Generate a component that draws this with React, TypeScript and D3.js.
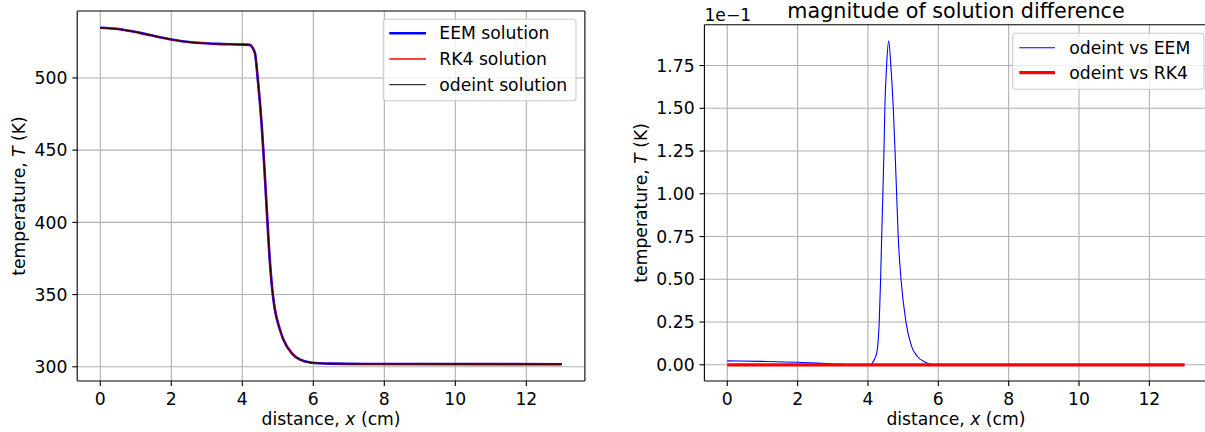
import React from "react";
import * as d3 from "d3";

// ---------- data ----------
const xTicks = [0, 2, 4, 6, 8, 10, 12];
const tempTicks = [300, 350, 400, 450, 500];
const diffTicks = [0, 0.025, 0.05, 0.075, 0.1, 0.125, 0.15, 0.175]; // K (shown ×1e-1)

const solutionX = [0, 0.55, 1.12, 1.68, 2.0, 2.62, 3.28, 4.0, 4.21, 4.28, 4.36, 4.43, 4.5, 4.55, 4.6, 4.65, 4.7, 4.78, 4.86, 4.92, 5.05, 5.16, 5.39, 5.63, 5.91, 6.47, 7.5, 13];
const odeintT = [534.7, 533.7, 531.2, 528.2, 526.6, 524.5, 523.6, 523.1, 522.9, 521.3, 516.7, 501, 482, 466, 447, 426, 404, 372, 350, 339.5, 326.5, 318.7, 309.5, 304.9, 303.0, 302.2, 301.9, 301.8];
const eemT = odeintT; // visually identical at this scale
const rk4T = odeintT;

const diffX = [0, 1, 2, 3, 3.5, 4.0, 4.08, 4.15, 4.25, 4.32, 4.36, 4.39, 4.42, 4.455, 4.48, 4.53, 4.59, 4.65, 4.72, 4.77, 4.82, 4.86, 4.94, 5.08, 5.24, 5.4, 5.62, 5.81, 6.0, 13];
const diffEEM = [0.0023, 0.002, 0.0015, 0.0005, 0.0001, 0, 0, 0.002, 0.007, 0.025, 0.05, 0.075, 0.097, 0.125, 0.15, 0.175, 0.1894, 0.175, 0.15, 0.125, 0.097, 0.075, 0.05, 0.025, 0.0108, 0.005, 0.0017, 0.0002, 0, 0];
const diffRK4X = [0, 13];
const diffRK4 = [0, 0];

const leftLegend = ["EEM solution", "RK4 solution", "odeint solution"];
const rightLegend = ["odeint vs EEM", "odeint vs RK4"];

// ---------- helpers ----------
const FONT = "DejaVu Sans, sans-serif";
const FS = 17.2;
const GRID = "#b0b0b0";

function padDomain(vals: number[]): [number, number] {
  const [a, b] = d3.extent(vals) as [number, number];
  const m = (b - a) * 0.05;
  return [a - m, b + m];
}

type Series = { xs: number[]; ys: number[]; color: string; width: number };

function Panel(props: {
  left: number; right: number; top: number; bottom: number;
  yDomain: [number, number]; yTicks: number[]; yFmt: (v: number) => string;
  series: Series[]; yLabelX: number; clipId: string; drawRight: boolean;
}) {
  const { left, right, top, bottom, yDomain, yTicks, yFmt, series, yLabelX, clipId } = props;
  const x = d3.scaleLinear().domain(padDomain([0, 13])).range([left, right]);
  const y = d3.scaleLinear().domain(yDomain).range([bottom, top]);
  return (
    <g>
      <defs>
        <clipPath id={clipId}>
          <rect x={left} y={top} width={right - left} height={bottom - top} />
        </clipPath>
      </defs>
      {xTicks.map((t) => (
        <line key={"gx" + t} x1={x(t)} x2={x(t)} y1={top} y2={bottom} stroke={GRID} strokeWidth={1.1} />
      ))}
      {yTicks.map((t) => (
        <line key={"gy" + t} x1={left} x2={right} y1={y(t)} y2={y(t)} stroke={GRID} strokeWidth={1.1} />
      ))}
      <g clipPath={`url(#${clipId})`}>
        {series.map((s, i) => {
          const pts = s.xs.map((v, j) => [v, s.ys[j]] as [number, number]);
          const line = d3.line<[number, number]>().x((d) => x(d[0])).y((d) => y(d[1])).curve(d3.curveMonotoneX);
          return <path key={i} d={line(pts) || ""} fill="none" stroke={s.color} strokeWidth={s.width} strokeLinecap="butt" />;
        })}
      </g>
      {/* spines */}
      <line x1={left} x2={right} y1={top} y2={top} stroke="#000" strokeWidth={1.1} />
      <line x1={left} x2={right} y1={bottom} y2={bottom} stroke="#000" strokeWidth={1.1} />
      <line x1={left} x2={left} y1={top} y2={bottom} stroke="#000" strokeWidth={1.1} />
      {props.drawRight && <line x1={right} x2={right} y1={top} y2={bottom} stroke="#000" strokeWidth={1.1} />}
      {/* x ticks */}
      {xTicks.map((t) => (
        <g key={"tx" + t}>
          <line x1={x(t)} x2={x(t)} y1={bottom} y2={bottom + 4.9} stroke="#000" strokeWidth={1.1} />
          <text x={x(t)} y={405} textAnchor="middle" fontFamily={FONT} fontSize={FS} fill="#000">{t}</text>
        </g>
      ))}
      {/* y ticks */}
      {yTicks.map((t) => (
        <g key={"ty" + t}>
          <line x1={left - 4.9} x2={left} y1={y(t)} y2={y(t)} stroke="#000" strokeWidth={1.1} />
          <text x={left - 9.8} y={y(t)} dy="0.36em" textAnchor="end" fontFamily={FONT} fontSize={FS} fill="#000">{yFmt(t)}</text>
        </g>
      ))}
      {/* axis labels */}
      <text x={(left + right) / 2} y={425} textAnchor="middle" fontFamily={FONT} fontSize={FS} fill="#000">
        distance, <tspan fontStyle="italic">x</tspan> (cm)
      </text>
      <text transform={`translate(${yLabelX},${(top + bottom) / 2}) rotate(-90)`} textAnchor="middle" fontFamily={FONT} fontSize={FS} fill="#000">
        temperature, <tspan fontStyle="italic">T</tspan> (K)
      </text>
    </g>
  );
}

function Legend(props: { x0: number; x1: number; y0: number; y1: number; labels: string[]; colors: string[]; widths: number[]; rows: number[]; hx0: number; hx1: number; tx: number }) {
  const { x0, x1, y0, y1, labels, colors, widths, rows, hx0, hx1, tx } = props;
  return (
    <g>
      <rect x={x0} y={y0} width={x1 - x0} height={y1 - y0} rx={3} ry={3} fill="#fff" fillOpacity={0.8} stroke="#cccccc" strokeWidth={1.1} />
      {labels.map((l, i) => (
        <g key={l}>
          <line x1={hx0} x2={hx1} y1={rows[i]} y2={rows[i]} stroke={colors[i]} strokeWidth={widths[i]} />
          <text x={tx} y={rows[i]} dy="0.36em" fontFamily={FONT} fontSize={FS} fill="#000">{l}</text>
        </g>
      ))}
    </g>
  );
}

export default function App() {
  const leftSeries: Series[] = [
    { xs: solutionX, ys: eemT, color: "#0000ff", width: 2.6 },
    { xs: solutionX, ys: rk4T, color: "#ff0000", width: 1.5 },
    { xs: solutionX, ys: odeintT, color: "#000000", width: 1.0 },
  ];
  const rightSeries: Series[] = [
    { xs: diffX, ys: diffEEM, color: "#0000ff", width: 1.1 },
    { xs: diffRK4X, ys: diffRK4, color: "#ff0000", width: 3.2 },
  ];
  const diffDomain = padDomain([...diffEEM, ...diffRK4]);
  return (
    <svg width={1205} height={432} style={{ position: "absolute", left: 0, top: 0, background: "#fff" }}>
      <rect x={0} y={0} width={1205} height={432} fill="#fff" />
      <Panel left={77.2} right={584.9} top={11} bottom={381} yDomain={padDomain(odeintT)} yTicks={tempTicks}
        yFmt={(v) => String(v)} series={leftSeries} yLabelX={25} clipId="clipL" drawRight={true} />
      <Legend x0={383.3} x1={576} y0={19.3} y1={100.7} labels={leftLegend} colors={["#0000ff", "#ff0000", "#000000"]}
        widths={[2.6, 1.5, 1.0]} rows={[33.3, 59, 84.7]} hx0={389.3} hx1={426} tx={439.3} />

      <Panel left={704.4} right={1207.4} top={24.7} bottom={381} yDomain={diffDomain} yTicks={diffTicks}
        yFmt={(v) => (v * 10).toFixed(2)} series={rightSeries} yLabelX={647} clipId="clipR" drawRight={false} />
      <Legend x0={1012.7} x1={1204} y0={33.3} y1={89.3} labels={rightLegend} colors={["#0000ff", "#ff0000"]}
        widths={[1.1, 3.2]} rows={[47.7, 72.7]} hx0={1019.3} hx1={1055} tx={1069.3} />
      <text x={956} y={18} textAnchor="middle" fontFamily={FONT} fontSize={20.7} fill="#000">magnitude of solution difference</text>
      <text x={704.4} y={20.5} textAnchor="start" fontFamily={FONT} fontSize={FS} fill="#000">1e−1</text>
    </svg>
  );
}
